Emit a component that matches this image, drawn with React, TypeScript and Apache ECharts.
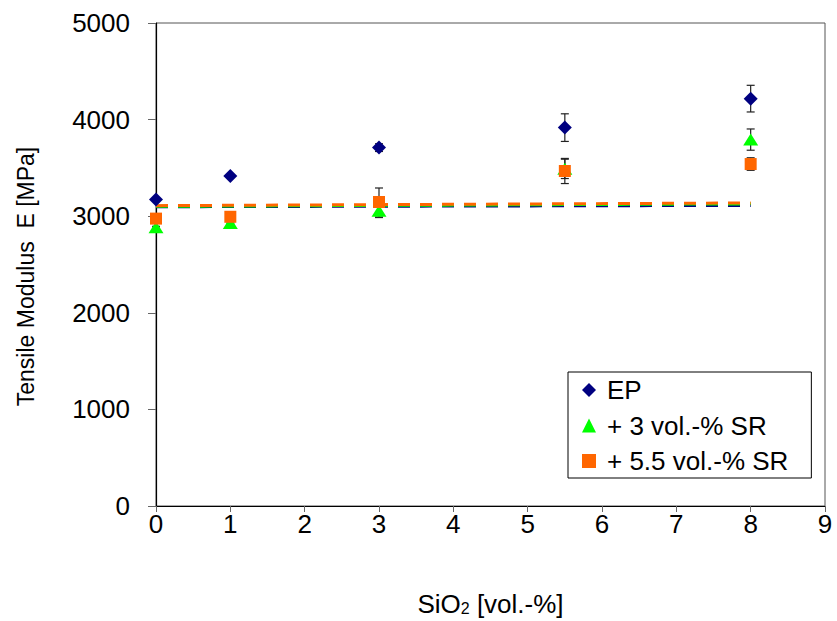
import React, { useEffect, useRef } from "react";
import * as echarts from "echarts";

// SiO2 content [vol.-%] of each measured formulation
const silica = [0, 1, 3, 5.5, 8];

// Tensile modulus E [MPa], mean values
const modulusEP = [3172, 3416, 3710, 3917, 4217];
const modulusSR3 = [2885, 2930, 3056, 3490, 3793];
const modulusSR55 = [2975, 2994, 3147, 3468, 3540];

// Standard deviations [MPa]
const errEP = [10, 10, 40, 143, 138];
const errSR3 = [10, 10, 70, 100, 110];
const errSR55 = [10, 10, 145, 130, 65];

// Linear trend lines: [x, E] end points
const trendX = [0, 8];
const trendEP = [3098, 3112];
const trendSR3 = [3102, 3128];
const trendSR55 = [3109, 3137];

// Axis ticks
const xTicks = { min: 0, max: 9, step: 1 };
const yTicks = { min: 0, max: 5000, step: 1000 };

const seriesNames = ["EP", "+ 3 vol.-% SR", "+ 5.5 vol.-% SR"];
const colors = ["#000080", "#00ff00", "#ff6600"];

const FONT = "Liberation Sans, Arial, sans-serif";

function pairs(xs: number[], ys: number[]) {
  return xs.map((x, i) => [x, ys[i]]);
}

function errorSeries(values: number[], errs: number[]) {
  return {
    type: "custom",
    silent: true,
    z: 3,
    data: silica.map((x, i) => [x, values[i] - errs[i], values[i] + errs[i]]),
    renderItem: (params: any, api: any) => {
      const x = api.value(0);
      const lo = api.coord([x, api.value(1)]);
      const hi = api.coord([x, api.value(2)]);
      const cap = 4;
      const style = { stroke: "#222", lineWidth: 1.2 };
      return {
        type: "group",
        children: [
          { type: "line", shape: { x1: lo[0], y1: lo[1], x2: hi[0], y2: hi[1] }, style },
          { type: "line", shape: { x1: lo[0] - cap, y1: lo[1], x2: lo[0] + cap, y2: lo[1] }, style },
          { type: "line", shape: { x1: hi[0] - cap, y1: hi[1], x2: hi[0] + cap, y2: hi[1] }, style },
        ],
      };
    },
  };
}

function trendSeries(ys: number[], color: string, z: number) {
  return {
    type: "line",
    silent: true,
    z,
    showSymbol: false,
    symbol: "none",
    data: pairs(trendX, ys),
    lineStyle: { color, width: 3, type: [12, 10] },
  };
}

export default function App() {
  const ref = useRef<HTMLDivElement>(null);

  useEffect(() => {
    if (!ref.current) return;
    const chart = echarts.init(ref.current, undefined, { renderer: "svg" });
    chart.setOption({
      animation: false,
      backgroundColor: "#ffffff",
      textStyle: { fontFamily: FONT },
      grid: {
        left: 156,
        right: 12,
        top: 23,
        bottom: 115,
        outerBoundsMode: "none",
        containLabel: false,
        show: true,
        borderColor: "#555",
        borderWidth: 1,
        backgroundColor: "transparent",
      },
      legend: {
        data: seriesNames,
        orient: "vertical",
        left: 568,
        top: 372,
        backgroundColor: "#fff",
        borderColor: "#000",
        borderWidth: 1,
        borderRadius: 0,
        padding: [5, 23, 4, 14],
        itemGap: 9.5,
        itemWidth: 14,
        itemHeight: 14,
        textStyle: {
          fontSize: 26,
          color: "#000",
          fontFamily: FONT,
          padding: [0, 0, 0, 6],
        },
      },
      xAxis: {
        type: "value",
        min: xTicks.min,
        max: xTicks.max,
        interval: xTicks.step,
        name: "{a|SiO}{s|2}{a| [vol.-%]}",
        nameLocation: "middle",
        nameGap: 86,
        nameTextStyle: {
          rich: {
            a: { fontSize: 26, fontFamily: FONT, color: "#000", lineHeight: 24, verticalAlign: "middle" },
            s: { fontSize: 16, fontFamily: FONT, color: "#000", lineHeight: 8, verticalAlign: "bottom" },
          },
        },
        axisLine: { show: true, lineStyle: { color: "#000", width: 1.2 } },
        axisTick: { show: true, inside: false, length: 6, lineStyle: { color: "#666" } },
        axisLabel: { fontSize: 26, color: "#000", fontFamily: FONT, margin: 5 },
        splitLine: { show: false },
      },
      yAxis: {
        type: "value",
        min: yTicks.min,
        max: yTicks.max,
        interval: yTicks.step,
        name: "Tensile Modulus  E [MPa]",
        nameLocation: "middle",
        nameGap: 119,
        nameRotate: 90,
        nameTextStyle: { fontSize: 23, color: "#000", fontFamily: FONT, padding: [0, 24, 0, 0] },
        axisLine: { show: true, lineStyle: { color: "#000", width: 1.2 } },
        axisTick: { show: true, inside: false, length: 8, lineStyle: { color: "#666" } },
        axisLabel: {
          fontSize: 26,
          color: "#000",
          fontFamily: FONT,
          margin: 26,
          formatter: (v: number) => String(v),
        },
        splitLine: { show: false },
      },
      series: [
        trendSeries(trendEP, colors[0], 1),
        trendSeries(trendSR3, colors[1], 1.1),
        trendSeries(trendSR55, colors[2], 1.2),
        errorSeries(modulusEP, errEP),
        errorSeries(modulusSR3, errSR3),
        errorSeries(modulusSR55, errSR55),
        {
          name: seriesNames[0],
          type: "scatter",
          z: 4,
          symbol: "diamond",
          symbolSize: 14,
          itemStyle: { color: colors[0], opacity: 1 },
          data: pairs(silica, modulusEP),
        },
        {
          name: seriesNames[1],
          type: "scatter",
          z: 4,
          symbol: "triangle",
          symbolSize: [15, 12],
          itemStyle: { color: colors[1], opacity: 1 },
          data: pairs(silica, modulusSR3),
        },
        {
          name: seriesNames[2],
          type: "scatter",
          z: 4,
          symbol: "rect",
          symbolSize: 12,
          itemStyle: { color: colors[2], opacity: 1 },
          data: pairs(silica, modulusSR55),
        },
      ],
    });
    return () => chart.dispose();
  }, []);

  return (
    <div
      ref={ref}
      style={{ position: "fixed", left: 0, top: 0, width: 837, height: 621, background: "#fff" }}
    />
  );
}
